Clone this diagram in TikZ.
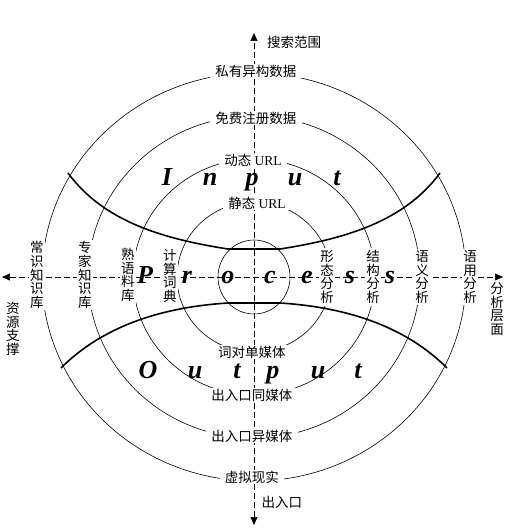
\documentclass[tikz,border=0pt]{standalone}
\usepackage{fontspec}
\setmainfont{Liberation Serif}
\newfontfamily\cjk{Noto Sans CJK SC}
\usepackage{tikz}
\usetikzlibrary{arrows.meta}

\begin{document}
\begin{tikzpicture}[
    x=1pt, y=1pt,
    every node/.style={align=center, font=\cjk\fontsize{13.5}{13.6}\selectfont},
    ring/.style={draw, line width=0.6pt},
    band/.style={draw, line width=1.6pt, line join=round},
    axis/.style={{Triangle[length=8pt,width=7pt]}-{Triangle[length=8pt,width=7pt]}, dash pattern=on 6pt off 3pt, line width=0.7pt},
    onring/.style={fill=white, inner xsep=5pt, inner ysep=1pt},
    sidelabel/.style={fill=white, inner xsep=1pt, inner ysep=2pt},
    bigletter/.style={anchor=base, font=\fontsize{26}{26}\selectfont\bfseries\itshape}
]
\useasboundingbox (-254,-253) rectangle (263,277);

% Rings
\foreach \rx/\ry in {36/37, 77/75, 121/118, 166/161, 212/204}
    \draw[ring] (0,0) ellipse [x radius=\rx pt, y radius=\ry pt];

% Bands
\draw[band] (-186,104) .. controls (-150,55) and (-90,38) .. (-26,28) -- (26,28) .. controls (90,38) and (150,55) .. (186,104);
\draw[band] (-193,-91) .. controls (-150,-48) and (-90,-30) .. (-26,-26) -- (26,-26) .. controls (90,-30) and (150,-48) .. (193,-91);

% Axes
\coordinate (top) at (0,244);
\coordinate (bottom) at (0,-248);
\coordinate (left) at (-252,0);
\coordinate (right) at (249,0);
\draw[axis] (bottom) -- (top);
\draw[axis] (left) -- (right);

% Axis labels
\node (scope) at (40,235) {搜索范围};
\node (port) at (28,-225) {出入口};
\node (level) at (243,-32) {分\\析\\层\\面};
\node (resource) at (-241,-52) {资\\源\\支\\撑};

% Labels on the vertical axis
\node[onring] (private) at (2,206) {私有异构数据};
\node[onring] (free) at (2,159) {免费注册数据};
\node[onring] (dynurl) at (-1,117) {动态 {\rmfamily URL}};
\node[onring] (staturl) at (3,74) {静态 {\rmfamily URL}};
\node[onring] (wordmedia) at (-2,-75) {词对单媒体};
\node[onring] (samemedia) at (-2,-118) {出入口同媒体};
\node[onring] (diffmedia) at (-2,-159) {出入口异媒体};
\node[onring] (vr) at (-2,-200) {虚拟现实};

% Labels on the horizontal axis
\node[sidelabel] (common) at (-217,2) {常\\识\\知\\识\\库};
\node[sidelabel] (expert) at (-169,2) {专\\家\\知\\识\\库};
\node[sidelabel] (idiom) at (-126,2) {熟\\语\\料\\库};
\node[sidelabel] (dict) at (-84,1) {计\\算\\词\\典};
\node[sidelabel] (morph) at (73,0) {形\\态\\分\\析};
\node[sidelabel] (struct) at (119,0) {结\\构\\分\\析};
\node[sidelabel] (sem) at (168,0) {语\\义\\分\\析};
\node[sidelabel] (prag) at (216,0) {语\\用\\分\\析};

% Big letters
\foreach \ch/\px [count=\i] in {I/-87, n/-44, p/-2, u/41, t/83}
    \node[bigletter] (input\i) at (\px,91) {\ch};
\foreach \ch/\px [count=\i] in {P/-109, r/-67, o/-26, c/16, e/53, s/96, s/136}
    \node[bigletter] (process\i) at (\px,-6) {\ch};
\foreach \ch/\px [count=\i] in {O/-106, u/-59, t/-17, p/19, u/64, t/104}
    \node[bigletter] (output\i) at (\px,-101) {\ch};

\end{tikzpicture}
\end{document}
